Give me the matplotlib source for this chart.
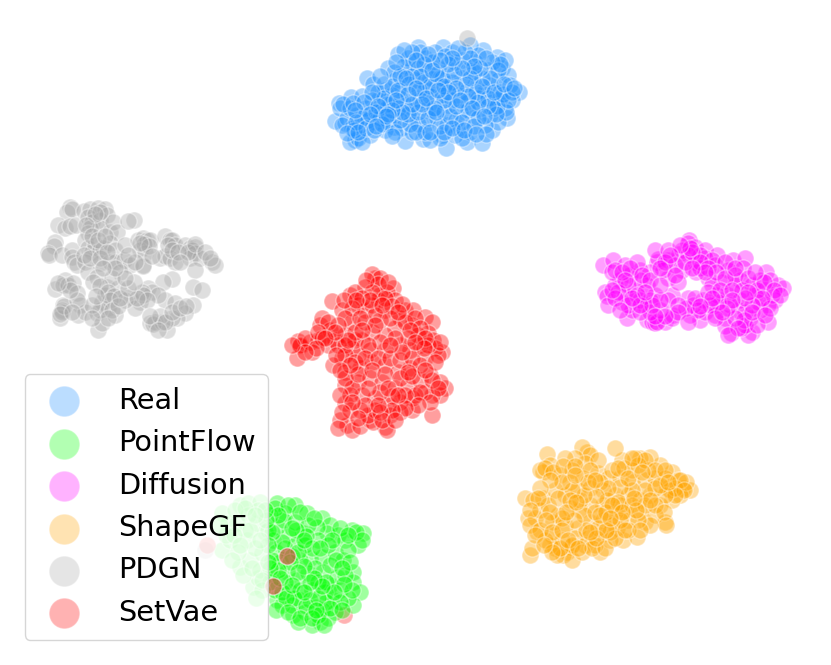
#!/usr/bin/env python3
"""t-SNE style embedding of shape features for six generators."""
import matplotlib
matplotlib.use("Agg")
import matplotlib.pyplot as plt

# embedding positions (x, y), y grows downwards
real = [(339,103),(335,121),(351,97),(362,96),(345,123),(357,115),(355,140),(350,142),(358,138),(372,112),
        (370,135),(394,127),(405,141),(423,139),(442,135),(446,148),(467,142),(482,143),(492,130),(507,118),
        (519,92),(502,68),(497,57),(483,50),(470,45),(443,47),(418,47),(398,54),(388,68),(367,78),
        (373,84),(340,108),(347,118),(360,125),(365,108),(378,100),(385,90),(395,80),(405,72),(412,62),
        (425,58),(435,52),(452,52),(462,60),(475,62),(488,70),(498,80),(508,75),(512,100),(505,108),
        (495,100),(485,92),(475,85),(462,78),(450,70),(438,68),(425,72),(415,80),(402,88),(392,95),
        (382,110),(375,122),(385,130),(395,115),(405,105),(415,98),(425,90),(437,85),(448,88),(458,95),
        (468,102),(480,108),(490,115),(498,122),(485,125),(472,118),(460,112),(448,105),(435,102),(425,110),
        (412,118),(402,128),(412,132),(425,125),(437,118),(447,125),(458,128),(470,132),(440,138),(430,140),
        (378,92),(390,104),(400,98),(410,110),(420,100),(430,96),(442,95),(452,100),(465,92),(478,98),
        (490,85),(500,92),(510,85),(505,60),(492,62),(478,55),(465,52),(455,62),(445,56),(432,62),
        (420,52),(408,58),(404,66),(418,68),(430,78),(440,78),(452,82),(468,70),(482,78),(494,108),
        (368,120),(352,128),(342,125),(362,142),(380,118),(388,122),(398,108),(418,124),(432,110),(444,112),
        (456,120),(468,110),(478,118),(500,98),(506,112),(395,132),(410,124),(425,132),(455,135),(462,138),
        (387,104),(372,100),(362,118),(350,108),(354,130),(384,84),(394,72),(412,76),(424,82),(474,72),
        (343,104),(353,103),(356,122),(366,128),(376,112),(384,98),(392,86),(400,76),(409,84),(419,90),
        (430,86),(442,78),(454,74),(466,84),(476,92),(488,98),(497,106),(503,94),(512,92),(508,100),
        (498,70),(490,78),(480,68),(470,58),(458,48),(448,64),(436,74),(424,64),(412,52),(404,50),
        (396,62),(380,76),(372,92),(364,102),(355,110),(347,133),(358,132),(374,130),(382,124),(392,136),
        (400,120),(408,114),(418,112),(428,118),(440,126),(450,116),(462,122),(474,126),(486,134),(496,114),
        (488,106),(478,102),(468,96),(456,106),(444,100),(434,108),(422,104),(412,104),(402,112),(392,110),
        (378,106),(370,114),(388,114),(398,90),(408,94),(420,76),(432,70),(444,86),(456,88),(470,78),
        (482,86),(494,92),(504,84),(514,88),(500,64),(486,58),(474,66),(462,68),(452,58),(440,60),
        (428,54),(416,60),(406,78),(396,100),(386,116),(376,126),(416,132),(430,132),(444,132),(452,128),
        (464,130),(476,134),(436,112),(448,92),(460,100),(472,108),(484,116),(416,88),(426,98),(438,90)]
pointflow = [(222,513),(240,505),(248,503),(260,502),(228,523),(222,550),(240,567),(253,587),(258,578),(247,540),
             (257,523),(237,523),(230,540),(250,560),(262,553),(258,510),(265,532),(248,515),(238,552),(260,570),
             (277,503),(295,505),(285,513),(307,513),(322,518),(330,525),(352,530),(363,533),(358,545),(338,535),
             (327,533),(317,527),(303,533),(288,535),(277,527),(273,540),(276,552),(295,545),(310,558),(322,557),
             (335,552),(343,560),(353,572),(353,582),(360,592),(353,605),(333,600),(330,585),(315,607),(320,622),
             (312,625),(293,615),(277,600),(290,592),(297,580),(272,575),(300,600),(308,573),(287,572),(323,572),
             (337,577),(283,520),(295,522),(308,525),(318,540),(328,545),(345,540),(305,545),(285,548),(270,515),
             (268,530),(300,560),(315,568),(330,565),(345,575),(340,590),(348,598),(325,592),(312,590),(300,590),
             (285,582),(275,590),(282,605),(292,605),(305,612),(322,610),(335,612),(328,618),(318,615),(298,622),
             (348,550),(318,582),(306,536),(280,562),(292,556),(326,602),(310,600),(340,602),(272,560),(296,530),
             (275,508),(288,505),(300,512),(314,518),(340,528),(356,532),(362,540),(348,535),(332,540),(312,548),
             (298,552),(282,542),(272,532),(278,515),(292,528),(304,540),(320,548),(336,560),(350,562),(342,568),
             (326,582),(314,578),(304,566),(290,562),(278,570),(270,582),(282,592),(294,598),(306,606),(318,598),
             (330,608),(342,610),(352,590),(344,584),(334,592),(322,586),(310,582),(298,572),(286,598),(276,610),
             (288,612),(300,618),(312,618),(324,625),(268,545),(270,568),(280,578),(292,585),(304,592),(316,610),
             (226,535),(235,510),(245,530),(255,548),(243,575),(252,568),(262,590),(266,520),(232,560),(250,530),
             (260,540),(245,508),(234,535),(256,598),(265,510),(220,525),(240,545),(268,562),(262,580),(255,515)]
diffusion = [(603,265),(613,260),(605,292),(607,296),(608,305),(627,318),(647,320),(652,322),(655,323),(665,322),
             (657,322),(673,315),(657,262),(658,259),(668,260),(679,254),(689,240),(688,243),(695,247),(705,250),
             (717,255),(733,260),(745,258),(743,268),(766,272),(778,285),(783,288),(775,300),(768,305),(752,332),
             (768,322),(748,335),(731,333),(741,328),(700,320),(705,312),(690,315),(672,318),(688,298),(672,295),
             (668,278),(682,270),(695,262),(705,258),(715,265),(728,270),(740,280),(752,285),(765,290),(772,295),
             (760,310),(750,318),(738,310),(725,318),(715,305),(728,295),(740,300),(722,282),(708,278),(696,272),
             (678,282),(663,270),(650,272),(640,270),(630,275),(620,280),(615,285),(625,295),(635,290),(647,285),
             (655,295),(645,305),(632,310),(622,302),(640,300),(612,272),(625,265),(637,262),(650,300),(660,310),
             (668,300),(693,305),(703,300),(717,295),(730,305),(745,312),(755,295),(735,285),(712,285),(700,268),
             (760,280),(770,280),(655,250),(668,250),(682,250),(700,255),(712,260),(725,262),(735,275),(742,290),
             (688,255),(675,265),(640,280),(628,285),(618,292),(650,312),(715,315),(725,326),(758,302),(745,325),
             (615,270),(622,272),(630,268),(642,275),(650,280),(637,295),(628,305),(640,312),(652,305),(660,300),
             (615,298),(620,310),(660,285),(665,262),(675,275),(685,262),(692,252),(700,262),(708,268),(716,272),
             (725,278),(735,268),(748,278),(757,290),(764,282),(774,290),(780,295),(770,308),(762,298),(752,305),
             (744,320),(735,318),(727,308),(718,302),(710,305),(698,310),(686,308),(678,305),(695,298),(708,292),
             (720,290),(732,290),(745,298),(738,328),(757,325),(690,248),(680,245),(670,255),(660,268),(715,318),
             (678,312),(665,316),(655,316),(640,305),(632,298),(645,292),(625,280),(612,290),(705,272),(692,268),
             (748,292),(732,300),(722,312),(712,298),(700,306),(688,322),(728,335),(752,312),(765,315),(755,272)]
shapegf = [(547,454),(543,498),(525,498),(533,500),(528,518),(535,518),(537,532),(530,555),(532,548),(552,535),
           (555,548),(567,552),(570,547),(563,555),(600,552),(623,540),(637,537),(617,528),(625,510),(645,522),
           (665,522),(667,488),(672,472),(683,488),(690,490),(680,495),(672,500),(660,465),(650,457),(640,458),
           (635,458),(622,460),(615,448),(587,452),(582,447),(590,455),(585,463),(575,458),(565,458),(550,465),
           (543,472),(560,475),(572,470),(583,478),(598,473),(608,478),(620,478),(632,482),(645,480),(655,478),
           (665,478),(555,490),(565,495),(578,490),(590,488),(603,490),(615,495),(628,495),(640,500),(650,495),
           (660,505),(640,512),(628,520),(615,512),(603,505),(590,505),(580,510),(570,508),(558,515),(553,522),
           (565,525),(578,528),(590,522),(603,520),(612,525),(600,535),(588,538),(575,538),(562,540),(550,545),
           (585,545),(595,545),(610,540),(540,510),(548,505),(678,480),(686,482),(670,490),(675,488),(632,470),
           (648,470),(598,460),(570,482),(580,500),(620,505),(655,515),(545,540),(557,555),(572,560),(607,500),
           (540,470),(545,468),(553,472),(563,466),(575,466),(590,470),(600,482),(612,470),(624,468),(638,465),
           (645,460),(632,458),(655,470),(665,470),(680,480),(684,490),(675,495),(665,495),(655,488),(645,490),
           (632,490),(620,487),(608,488),(596,496),(584,495),(572,490),(562,482),(550,480),(540,488),(558,498),
           (570,500),(584,515),(595,512),(606,512),(618,502),(632,505),(645,505),(655,505),(664,512),(666,525),
           (650,525),(638,520),(628,530),(620,520),(610,532),(598,528),(586,530),(574,520),(562,518),(550,512),
           (538,498),(530,510),(530,525),(540,530),(546,520),(552,532),(562,530),(572,545),(582,552),(592,548),
           (605,548),(615,538),(625,530),(640,530),(560,548),(552,552),(568,540),(578,548),(596,538),(606,530),
           (618,468),(628,478),(642,472),(660,485),(668,482),(650,500),(636,510),(612,505),(600,515),(588,482),
           (575,475),(595,480),(535,535),(544,545),(634,498),(622,512),(590,532),(610,518),(566,512),(576,502)]
pdgn = [(70,207),(67,212),(72,209),(58,225),(65,228),(70,226),(76,225),(55,242),(54,246),(48,253),
        (49,255),(62,255),(72,250),(72,257),(74,262),(77,265),(84,211),(90,209),(98,208),(105,209),
        (88,217),(92,222),(100,220),(107,215),(90,228),(88,233),(100,228),(110,232),(113,222),(117,232),
        (134,220),(128,221),(85,240),(88,248),(92,252),(95,245),(100,250),(103,248),(110,243),(115,250),
        (85,262),(100,263),(110,262),(115,262),(124,260),(130,265),(125,245),(138,240),(143,238),(147,240),
        (150,240),(140,250),(145,253),(143,265),(143,266),(165,236),(170,240),(172,240),(175,245),(160,258),
        (165,256),(170,258),(175,262),(185,245),(190,248),(195,247),(192,250),(195,253),(190,258),(200,258),
        (212,262),(215,265),(195,270),(172,279),(163,282),(193,287),(202,290),(65,280),(55,289),(63,285),
        (68,285),(73,283),(77,293),(63,305),(62,310),(60,318),(80,305),(78,315),(85,312),(97,313),
        (98,330),(102,323),(88,272),(97,277),(107,287),(120,272),(118,288),(102,302),(108,308),(115,315),
        (140,302),(148,288),(152,292),(130,297),(135,308),(165,300),(175,303),(193,305),(185,313),(150,323),
        (155,322),(167,330),(177,318),(105,295),(112,278),(125,300),(142,292),(158,295),(172,318),(162,322),
        (144,244),(149,246),(140,243),(168,245),(172,250),(178,252),(188,252),(62,312),(64,306),(60,314),
        (100,212),(95,214),(86,225),(92,236),(98,240),(105,236),(84,255),(90,258),(100,258),(107,252),
        (93,282),(100,286),(108,292),(114,296),(110,300),(100,310),(92,305),(96,296),(112,310),(118,306),
        (108,318),(120,298),(143,295),(147,300),(137,298),(128,288),(134,282),(125,278),(115,268),(103,268),
        (153,324),(160,316),(165,322),(172,312),(180,308),(186,306),(150,316),(158,330),(77,300),(70,290),
        (58,283),(72,312),(92,318),(195,244),(205,252),(210,258),(180,262),(152,256),(135,262),(128,255),
        (467,38),(205,550),(273,586),(287,556)]
setvae = [(375,278),(372,274),(380,278),(365,287),(393,288),(387,292),(332,301),(342,310),(350,295),(355,292),
          (405,310),(413,310),(425,317),(412,325),(432,322),(428,333),(433,340),(442,352),(435,348),(445,388),
          (440,395),(432,395),(412,410),(432,415),(345,403),(347,425),(340,420),(338,428),(352,430),(360,426),
          (370,420),(385,427),(387,430),(373,422),(298,341),(300,346),(297,358),(300,345),(310,342),(318,340),
          (320,325),(322,318),(330,330),(335,340),(345,335),(352,322),(358,305),(365,310),(378,300),(380,295),
          (372,305),(385,310),(400,318),(395,328),(385,335),(372,332),(362,340),(352,348),(342,358),(333,365),
          (345,372),(360,368),(372,362),(385,365),(398,372),(410,368),(420,345),(425,358),(438,355),(410,350),
          (400,345),(385,350),(370,350),(358,355),(345,385),(358,382),(370,378),(382,382),(395,388),(408,385),
          (420,380),(430,375),(440,382),(425,392),(412,398),(400,402),(388,405),(375,398),(362,395),(350,395),
          (375,410),(390,415),(400,412),(415,395),(368,415),(322,338),(328,345),(338,345),(312,352),(305,338),
          (207,545),(273,586),(287,556),(350,410),(360,410),(355,340),(380,320),(395,300),(418,335),
          (378,284),(372,292),(385,298),(392,306),(402,304),(362,298),(352,308),(345,318),(338,325),(328,322),
          (318,332),(345,345),(355,332),(365,322),(375,315),(390,318),(405,322),(415,318),(420,328),(408,338),
          (395,338),(380,342),(368,345),(345,355),(355,362),(365,358),(378,358),(390,358),(400,360),(412,358),
          (428,345),(420,365),(435,362),(440,342),(432,380),(420,392),(405,395),(392,396),(380,392),(368,388),
          (352,388),(340,395),(345,378),(358,374),(372,370),(385,374),(400,378),(412,376),(425,370),(438,388),
          (430,402),(418,405),(405,408),(392,410),(380,412),(365,405),(352,402),(342,412),(358,418),(382,420),
          (395,420),(378,405),(388,388),(398,395),(408,372),(350,365),(336,355),(340,370),(348,340),(360,318),
          (370,300),(382,305),(398,312),(410,330),(425,338),(402,352),(390,345),(375,325),(362,330),(335,332),
          (325,338),(316,348),(305,352),(292,345),(344,300),(356,300),(366,280),(388,282),(424,348),(415,342)]
# one SetVae point sits underneath the green cluster
setvae_under = [(344,615)]

labels = ["Real", "PointFlow", "Diffusion", "ShapeGF", "PDGN", "SetVae"]
colors = ["#1e90ff", "#00ff00", "#ff00ff", "#ffa500", "#a9a9a9", "#ff0000"]
series = [real, pointflow, diffusion, shapegf, pdgn, setvae]

fig = plt.figure(figsize=(8.31, 6.65), dpi=100)
ax = fig.add_axes([0, 0, 1, 1])
ax.scatter([p[0] for p in setvae_under], [p[1] for p in setvae_under], s=150, c=colors[5],
           alpha=0.3, edgecolors="white", linewidths=1.0, zorder=0.5)
for pts, name, col in zip(series, labels, colors):
    xs = [p[0] for p in pts]
    ys = [p[1] for p in pts]
    ax.scatter(xs, ys, s=150, c=col, alpha=0.38, edgecolors="white", linewidths=1.0, label=name)
ax.set_xlim(0, 831)
ax.set_ylim(665, 0)
ax.axis("off")

leg = ax.legend(loc="lower left", bbox_to_anchor=(24.5 / 831, (665 - 639.5) / 665), borderaxespad=0,
                fontsize=20.7, markerscale=1.8, labelspacing=0.5, handlelength=1.85, handletextpad=0.95,
                borderpad=0.44)
for h in leg.legend_handles:
    h.set_alpha(0.3)
fig.savefig("out.png", dpi=100)
